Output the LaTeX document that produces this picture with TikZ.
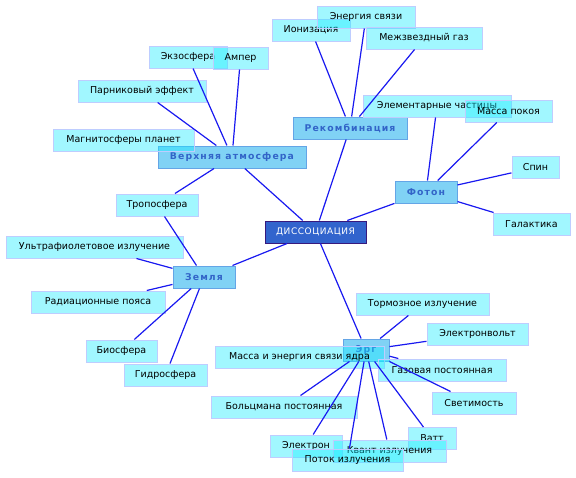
\documentclass[tikz,border=0pt]{standalone}
\usepackage{fontspec}
\setmainfont{DejaVu Sans}
\newfontfamily\hubfont[LetterSpace=12]{DejaVu Sans}
\newfontfamily\rootfont[LetterSpace=6]{DejaVu Sans}
\usetikzlibrary{positioning}

\definecolor{leafcyan}{RGB}{20,236,255}
\definecolor{leafedge}{RGB}{190,205,255}
\definecolor{hubfill}{RGB}{128,210,245}
\definecolor{hubedge}{RGB}{100,165,230}
\definecolor{hubtext}{RGB}{50,100,200}
\definecolor{rootfill}{RGB}{50,100,205}
\definecolor{rootedge}{RGB}{55,25,125}
\definecolor{linkblue}{RGB}{25,25,240}

\begin{document}
\begin{tikzpicture}[
  x=1pt, y=-1pt,
  leaf/.style={draw=leafedge, line width=1pt, fill=leafcyan, fill opacity=0.4, text opacity=1, minimum height=22pt, inner sep=0pt, font=\fontsize{9.5}{11}\selectfont},
  hub/.style={draw=hubedge, line width=1pt, fill=hubfill, text=hubtext, minimum height=22pt, inner sep=0pt, font=\hubfont\bfseries\fontsize{9.3}{11}\selectfont},
  root/.style={draw=rootedge, line width=1pt, fill=rootfill, text=white, minimum height=22pt, inner sep=0pt, font=\rootfont\fontsize{9}{11}\selectfont},
  link/.style={draw=linkblue, line width=1.2pt}
]
\useasboundingbox (0,0) rectangle (576,477);

% Центр и узлы
\node[root, minimum width=101pt] (diss)   at (315.5,232) {ДИССОЦИАЦИЯ};
\node[hub,  minimum width=148pt] (atmo)   at (232,157)   {Верхняя атмосфера};
\node[hub,  minimum width=114pt] (rekomb) at (350,128)   {Рекомбинация};
\node[hub,  minimum width=62pt]  (foton)  at (426,192)   {Фотон};
\node[hub,  minimum width=62pt]  (zemlya) at (204,277)   {Земля};
\node[hub,  minimum width=46pt]  (erg)    at (366,350)   {Эрг};

% Рекомбинация
\node[leaf, minimum width=78pt]  (ioniz)  at (311,30)    {Ионизация};
\node[leaf, minimum width=98pt]  (energ)  at (366,17)    {Энергия связи};
\node[leaf, minimum width=116pt] (gaz)    at (424,38)    {Межзвездный газ};
% Фотон
\node[leaf, minimum width=148pt] (elem)   at (437,106)   {Элементарные частицы};
\node[leaf, minimum width=87pt]  (pokoy)  at (508.5,111) {Масса покоя};
\node[leaf, minimum width=47pt]  (spin)   at (535.5,167.5) {Спин};
\node[leaf, minimum width=77pt]  (galakt) at (531.5,224) {Галактика};
% Верхняя атмосфера
\node[leaf, minimum width=78pt]  (ekzo)   at (188,57)    {Экзосфера};
\node[leaf, minimum width=55pt]  (amper)  at (240.5,58)  {Ампер};
\node[leaf, minimum width=128pt] (parnik) at (142,91)    {Парниковый эффект};
\node[leaf, minimum width=141pt] (magnit) at (123.5,140) {Магнитосферы планет};
\node[leaf, minimum width=82pt]  (tropo)  at (157,205)   {Тропосфера};
% Земля
\node[leaf, minimum width=177pt] (ultra)  at (94.5,247)  {Ультрафиолетовое излучение};
\node[leaf, minimum width=134pt] (radiac) at (98,302)    {Радиационные пояса};
\node[leaf, minimum width=71pt]  (bio)    at (121.5,351) {Биосфера};
\node[leaf, minimum width=83pt]  (gidro)  at (165.5,375) {Гидросфера};
% Эрг
\node[leaf, minimum width=133pt] (tormoz) at (422.5,304) {Тормозное излучение};
\node[leaf, minimum width=101pt] (evolt)  at (477.5,334) {Электронвольт};
\node[leaf, minimum width=169pt] (yadro)  at (299.5,357.5) {Масса и энергия связи ядра};
\node[leaf, minimum width=128pt] (gazpost) at (442,370)  {Газовая постоянная};
\node[leaf, minimum width=84pt]  (svetim) at (474,403)   {Светимость};
\node[leaf, minimum width=146pt] (bolcm)  at (284,407)   {Больцмана постоянная};
\node[leaf, minimum width=48pt]  (vatt)   at (432,438.5) {Ватт};
\node[leaf, minimum width=72pt]  (elektr) at (306,446)   {Электрон};
\node[leaf, minimum width=113pt] (kvant)  at (389.5,451) {Квант излучения};
\node[leaf, minimum width=111pt] (potok)  at (347.5,460) {Поток излучения};

% Связи от центра
\draw[link] (diss) -- (atmo);
\draw[link] (diss) -- (rekomb);
\draw[link] (diss) -- (foton);
\draw[link] (diss) -- (zemlya);
\draw[link] (diss) -- (erg);

\draw[link] (rekomb) -- (ioniz);
\draw[link] (rekomb) -- (energ);
\draw[link] (rekomb) -- (gaz);

\draw[link] (foton) -- (elem);
\draw[link] (foton) -- (pokoy);
\draw[link] (foton) -- (spin);
\draw[link] (foton) -- (galakt);

\draw[link] (atmo) -- (ekzo);
\draw[link] (atmo) -- (amper);
\draw[link] (atmo) -- (parnik);
\draw[link] (atmo) -- (tropo);

\draw[link] (zemlya) -- (tropo);
\draw[link] (zemlya) -- (ultra);
\draw[link] (zemlya) -- (radiac);
\draw[link] (zemlya) -- (bio);
\draw[link] (zemlya) -- (gidro);

\draw[link] (erg) -- (tormoz);
\draw[link] (erg) -- (evolt);
\draw[link] (erg) -- (gazpost);
\draw[link] (erg) -- (svetim);
\draw[link] (erg) -- (bolcm);
\draw[link] (erg) -- (vatt);
\draw[link] (erg) -- (elektr);
\draw[link] (erg) -- (kvant);
\draw[link] (erg) -- (potok);

\end{tikzpicture}
\end{document}
